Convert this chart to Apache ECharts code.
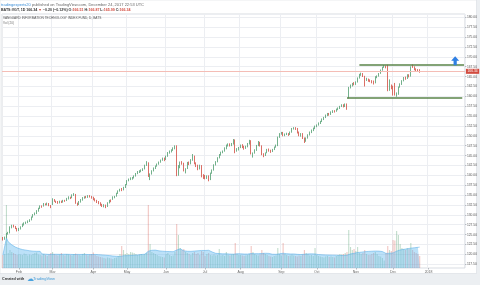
<!DOCTYPE html>
<html>
<head>
  <meta charset="utf-8">
  <title>VGT daily</title>
  <script src="https://cdn.jsdelivr.net/npm/echarts@6/dist/echarts.min.js"></script>
  <style>
    html, body { margin: 0; padding: 0; background: #eceff2; }
    #chart { width: 480px; height: 285px; }
  </style>
</head>
<body>
  <div id="chart"></div>
  <script>
  // daily candles [open, close, low, high], 2017-01-19 .. 2017-12-22
  var ohlc = [
    [124.2,123.7,123.5,124.4],[123.9,124.3,123.7,124.5],[124.3,125.2,124.1,125.4],[125.2,125.4,125.0,125.7],[125.5,126.9,125.3,127.1],
    [126.9,127.2,126.6,127.5],[127.3,127.0,126.8,127.5],[127.0,126.6,126.4,127.2],[126.5,126.0,125.8,126.7],
    // Feb
    [126.2,126.5,125.9,126.7],[126.4,126.9,126.3,127.1],[127.0,127.6,126.9,127.8],[127.5,127.9,127.3,128.1],[127.9,128.1,127.7,128.3],
    [128.0,128.4,127.9,128.6],[128.3,128.7,128.2,128.9],[128.8,129.4,128.6,129.6],[129.5,130.0,129.3,130.2],[130.1,130.4,129.9,130.6],
    [130.3,131.0,130.2,131.2],[131.0,131.6,130.8,131.8],[131.7,132.2,131.5,132.4],[132.1,132.0,131.8,132.4],[132.3,132.8,132.1,133.0],
    [132.7,132.6,132.4,132.9],[132.6,132.9,132.4,133.1],[132.8,132.4,132.2,133.0],[132.3,132.0,131.7,132.5],
    // Mar
    [132.6,134.0,132.5,134.2],[133.9,133.5,133.3,134.0],[133.4,133.2,133.0,133.6],[133.3,133.0,132.8,133.5],[133.1,133.4,132.9,133.6],
    [133.4,133.2,133.0,133.6],[133.2,133.6,133.1,133.8],[133.6,133.5,133.3,133.8],[133.6,134.1,133.5,134.3],[134.1,134.5,133.9,134.7],
    [134.4,134.2,134.0,134.6],[134.3,135.0,134.2,135.2],[135.0,135.3,134.8,135.5],[135.2,133.0,132.8,135.3],[132.9,132.6,132.3,133.1],
    [132.7,133.3,132.5,133.5],[133.3,133.8,133.1,134.0],[133.8,134.3,133.6,134.5],[134.3,134.5,134.1,134.7],[134.6,134.4,134.2,134.8],
    [134.5,134.8,134.3,135.0],[134.8,134.6,134.4,135.0],[134.6,134.3,134.1,134.8],
    // Apr
    [134.3,134.0,133.7,134.6],[134.0,133.6,133.4,134.2],[133.6,133.2,133.0,133.8],[133.2,133.0,132.7,133.5],[133.0,132.6,132.3,133.2],
    [132.6,132.2,132.0,132.8],[132.2,132.5,131.9,132.7],[132.4,132.0,131.7,132.6],[132.2,133.0,132.0,133.2],[133.1,133.6,132.9,133.8],
    [133.6,133.5,133.2,133.9],[134.0,134.5,133.8,134.7],[134.5,134.6,134.2,134.8],[134.8,135.4,134.6,135.6],[135.5,136.0,135.3,136.2],
    [136.1,136.4,135.9,136.6],[136.6,136.3,136.0,136.8],[136.4,136.9,136.2,137.1],[136.9,137.6,136.8,137.8],
    // May
    [137.7,138.6,137.5,138.8],[138.7,139.0,138.5,139.2],[139.0,139.2,138.8,139.5],[139.2,139.4,138.9,139.6],[139.4,139.8,139.2,140.0],
    [139.9,140.4,139.7,140.6],[140.5,140.9,140.3,141.1],[140.9,141.1,140.6,141.3],[141.0,141.3,140.8,141.5],[141.3,141.6,141.1,141.8],
    [141.7,142.5,141.5,142.7],[142.6,143.3,142.4,143.6],[143.2,139.8,139.6,143.3],[139.3,140.3,138.8,140.5],[140.4,141.1,140.2,141.3],
    [141.2,141.8,141.0,142.0],[141.8,142.3,141.6,142.5],[142.4,142.8,142.2,143.0],[142.9,143.3,142.7,143.5],[143.4,143.8,143.2,144.0],
    [143.9,144.3,143.7,144.5],[144.3,144.1,143.6,144.5],
    // Jun
    [144.1,144.8,143.9,145.0],[144.9,145.7,144.7,145.9],[145.8,146.1,145.5,146.3],[146.0,146.4,145.8,146.6],[146.4,146.9,146.2,147.1],
    [146.8,147.3,146.6,147.6],[147.4,142.8,139.8,147.6],[141.6,142.0,139.9,142.6],[142.0,143.3,141.8,143.5],[143.4,143.0,142.7,143.6],
    [143.0,141.3,141.0,143.2],[141.2,141.5,140.5,141.8],[141.8,143.2,141.6,143.4],[143.2,142.9,142.6,143.5],[143.0,143.9,142.8,144.1],
    [143.9,144.8,143.7,145.4],[144.8,143.0,142.8,145.0],[143.1,142.4,142.1,143.3],[142.5,141.6,141.3,142.7],[141.8,142.5,141.5,142.7],
    [142.4,139.8,139.5,142.6],[139.9,139.6,139.1,140.3],
    // Jul
    [139.9,139.3,139.0,140.1],[139.4,139.8,139.1,140.0],[139.8,138.9,138.5,140.0],[139.0,140.5,138.8,140.7],[140.6,141.3,140.4,141.5],
    [141.4,142.6,141.2,142.8],[142.7,143.4,142.5,143.6],[143.5,144.4,143.3,144.6],[144.5,145.2,144.3,145.4],[145.2,145.8,145.0,146.0],
    [145.9,146.1,145.6,146.3],[146.2,146.9,146.0,147.1],[146.8,147.6,146.6,147.8],[147.6,147.9,147.3,148.1],[147.9,147.6,147.3,148.1],
    [147.6,148.0,147.4,148.2],[148.0,148.9,147.8,149.2],[148.9,146.3,145.6,149.1],[146.4,146.7,146.0,146.9],[146.6,147.0,146.3,147.2],
    // Aug
    [147.1,147.6,146.9,147.8],[147.6,147.2,146.9,147.9],[147.3,146.8,146.5,147.5],[146.9,147.3,146.7,147.5],[147.3,147.9,147.1,148.2],
    [148.0,148.8,147.8,149.0],[148.7,145.6,145.3,148.9],[145.2,145.6,144.5,145.8],[145.7,146.4,145.5,146.6],[146.4,147.5,146.2,147.7],
    [147.6,148.3,147.4,148.7],[148.3,147.6,147.3,148.5],[147.5,145.3,145.1,147.6],[145.3,145.1,144.6,145.6],[145.2,145.6,144.9,145.8],
    [145.8,146.5,145.6,146.7],[146.6,146.3,146.0,146.8],[146.3,146.0,145.7,146.5],[146.1,146.5,145.9,146.7],[146.6,147.1,146.4,147.3],
    [147.2,147.6,147.0,147.8],[147.6,149.6,147.4,149.8],[149.7,150.5,149.5,150.7],
    // Sep
    [150.6,150.8,150.3,151.0],[150.8,150.2,149.9,151.0],[150.2,150.4,149.9,150.6],[150.5,150.6,150.2,150.8],[150.5,150.3,150.0,150.7],
    [150.4,150.9,150.2,151.1],[151.0,151.8,150.8,152.0],[151.8,152.0,151.6,152.2],[152.0,151.8,151.5,152.2],[151.8,150.9,150.6,152.0],
    [150.9,150.2,149.9,151.1],[150.2,150.5,149.8,150.7],[150.5,149.5,149.2,150.7],[149.4,148.6,148.2,149.6],[148.7,149.4,148.5,149.6],
    [149.5,150.2,149.3,150.4],[150.3,150.9,150.1,151.1],[150.9,151.4,150.7,151.6],[151.4,151.9,151.2,152.1],[151.9,152.4,151.7,152.6],
    // Oct
    [152.4,152.7,152.2,152.9],[152.8,153.2,152.6,153.4],[153.2,153.6,153.0,153.8],[153.7,154.2,153.5,154.4],[154.2,154.6,154.0,154.8],
    [154.7,155.2,154.5,155.4],[155.2,155.6,155.0,155.8],[155.6,155.4,155.1,155.8],[155.5,156.0,155.3,156.2],[156.0,156.3,155.8,156.5],
    [156.3,156.2,155.9,156.5],[156.3,156.7,156.1,156.9],[156.7,157.0,156.5,157.2],[157.0,157.4,156.8,157.6],[157.5,157.8,157.3,158.0],
    [157.8,157.5,157.2,158.0],[157.5,158.0,157.3,158.2],[158.0,157.3,156.6,158.2],[159.7,162.2,159.5,162.4],[162.3,162.8,162.0,163.0],
    [162.8,163.2,162.5,163.4],[163.4,163.1,162.8,163.6],
    // Nov
    [163.1,163.6,162.9,163.8],[163.7,164.6,163.5,164.8],[164.7,165.4,164.5,165.7],[165.4,165.7,165.2,166.0],[165.7,165.2,164.9,165.9],
    [165.0,164.3,162.5,165.2],[164.3,164.4,163.9,164.7],[164.3,164.0,163.7,164.5],[164.1,163.9,163.6,164.3],[163.9,163.6,163.3,164.1],
    [163.8,163.3,163.0,164.0],[163.5,164.9,163.3,165.1],[164.9,165.1,164.6,165.3],[165.2,165.7,165.0,165.9],[165.9,166.6,165.7,166.8],
    [166.7,167.3,166.5,167.5],[167.4,167.6,167.2,167.9],[167.6,167.4,167.1,167.8],[167.8,161.6,161.3,168.0],[161.8,162.6,161.4,164.3],
    [162.7,162.2,161.8,163.0],
    // Dec
    [162.4,162.0,160.2,162.7],[163.0,160.6,160.2,163.4],[160.2,160.6,159.9,161.0],[160.6,162.3,160.4,162.5],[162.4,163.0,162.2,163.3],
    [163.1,163.9,162.9,164.1],[164.0,164.7,163.8,164.9],[164.8,164.5,164.2,165.0],[164.6,165.4,164.4,165.6],[165.4,165.1,164.8,165.6],
    [165.2,167.4,165.0,167.6],[167.9,167.5,167.2,168.1],[167.4,166.9,166.6,167.6],[166.9,166.6,166.3,167.1],[166.7,166.54,166.2,166.9],
    [166.51,166.34,165.99,166.87]
  ];

  // volume, thousands of shares
  var volume = [
    520, 560, 2520, 600, 720, 640, 600, 560, 520,
    560, 540, 520, 580, 560, 500, 540, 520, 560, 600, 620, 540, 520, 500, 560, 520, 480, 540, 600,
    640, 560, 520, 500, 540, 600, 520, 500, 560, 540, 520, 500, 560, 580, 540, 520, 500, 560, 600, 520, 500, 540, 560,
    620, 520, 480, 460, 440, 420, 400, 380, 420, 400, 380, 360, 400, 420, 480, 560, 880, 720, 560,
    600, 560, 640, 620, 600, 560, 520, 540, 560, 520, 560, 600, 2520, 960, 640, 600, 560, 520, 480, 460, 440, 420,
    560, 600, 520, 480, 500, 640, 1760, 1320, 800, 720, 760, 640, 600, 560, 520, 600, 640, 560, 600, 520, 680, 640,
    480, 560, 600, 520, 500, 540, 500, 520, 760, 500, 520, 480, 640, 520, 500, 540, 560, 1000, 560, 520,
    520, 500, 480, 500, 520, 560, 880, 640, 560, 520, 500, 540, 720, 600, 560, 520, 480, 460, 440, 480, 500, 800, 560,
    500, 1000, 560, 520, 480, 500, 540, 500, 480, 460, 500, 480, 540, 720, 600, 560, 500, 520, 480, 800,
    520, 480, 460, 440, 420, 460, 480, 440, 460, 440, 420, 480, 520, 560, 540, 560, 600, 640, 1520, 840, 720, 760,
    680, 840, 600, 560, 600, 720, 560, 520, 520, 560, 600, 640, 560, 480, 460, 400, 300, 600, 880, 720, 680,
    1120, 1100, 1480, 1320, 960, 800, 760, 720, 800, 760, 1000, 720, 640, 600, 560, 480
  ];
  var maLength = 20;

  var holidays = ['2017-02-20', '2017-04-14', '2017-05-29', '2017-07-04', '2017-09-04',
                  '2017-11-23', '2017-12-25', '2018-01-01', '2018-01-15'];
  var monthNames = ['Jan', 'Feb', 'Mar', 'Apr', 'May', 'Jun', 'Jul', 'Aug', 'Sep', 'Oct', 'Nov', 'Dec'];

  // trading days, plus empty days to the right of the last bar
  var dates = [];
  var d = new Date(Date.UTC(2017, 0, 19));
  while (dates.length < 261) {
    var key = d.toISOString().slice(0, 10);
    if (d.getUTCDay() !== 0 && d.getUTCDay() !== 6 && holidays.indexOf(key) < 0) dates.push(key);
    d.setUTCDate(d.getUTCDate() + 1);
  }

  var volMa = volume.map(function (v, i) {
    var from = Math.max(0, i - maLength + 1), sum = 0;
    for (var k = from; k <= i; k++) sum += volume[k];
    return +(sum / (i - from + 1)).toFixed(1);
  });

  var upColor = '#4f9d6e', downColor = '#d24b3f';
  var last = ohlc[ohlc.length - 1], prevClose = ohlc[ohlc.length - 2][1];
  var change = last[1] - prevClose;
  var changePct = change / prevClose * 100;

  function isMonthStart(i) {
    return i > 0 && dates[i].slice(5, 7) !== dates[i - 1].slice(5, 7);
  }
  function monthLabel(v) {
    var m = +v.slice(5, 7);
    return m === 1 ? v.slice(0, 4) : monthNames[m - 1];
  }
  function fmt(v) { return v.toFixed(2).replace('-', '\u2212'); }

  var chart = echarts.init(document.getElementById('chart'));
  chart.setOption({
    animation: false,
    backgroundColor: '#eceff2',
    textStyle: { fontFamily: 'Liberation Sans, Arial, sans-serif' },
    title: [
      {
        left: 1, top: 2, padding: 0,
        text: '{u|tradingexperts20} {g|published on TradingView.com, December 24, 2017 22:53 UTC}',
        textStyle: { fontSize: 4, lineHeight: 5, fontWeight: 'normal', color: '#666', rich: {
          u: { fontSize: 4, lineHeight: 5, color: '#3d8fd8' },
          g: { fontSize: 4, lineHeight: 5, color: '#666' }
        } }
      },
      {
        left: 1, top: 8, padding: 0,
        text: '{k|BATS:VGT, 1D} {k|' + fmt(last[1]) + '} {r|\u25BC} {k|' + fmt(change) + ' (' + fmt(changePct) + '%)} ' +
              '{k|O:}{r|' + fmt(last[0]) + '} {k|H:}{r|' + fmt(last[3]) + '} {k|L:}{r|' + fmt(last[2]) + '} {k|C:}{r|' + fmt(last[1]) + '}',
        textStyle: { fontSize: 3.6, lineHeight: 4.5, fontWeight: 'bold', color: '#333', rich: {
          k: { fontSize: 3.6, lineHeight: 4.5, color: '#333', fontWeight: 'bold' },
          r: { fontSize: 3.6, lineHeight: 4.5, color: downColor, fontWeight: 'bold' }
        } }
      },
      {
        left: 3, top: 16.2, padding: 0,
        text: 'VANGUARD INFORMATION TECHNOLOGY INDEX FUND, D, BATS',
        textStyle: { fontSize: 3.2, color: '#555', fontWeight: 'normal' }
      },
      {
        left: 3, top: 21.2, padding: 0,
        text: 'Vol (20)',
        textStyle: { fontSize: 3.2, color: '#777', fontWeight: 'normal' }
      }
    ],
    graphic: [
      { type: 'rect', z: -100, shape: { x: 0, y: 0, width: 476.5, height: 273.5 },
        style: { fill: '#fff', stroke: '#d8dbe0', lineWidth: 0.6 } },
      { type: 'text', x: 2, y: 279, style: { text: 'Created with', fontSize: 3.7, fontWeight: 'bold', fill: '#333', verticalAlign: 'middle' } },
      { type: 'text', x: 26.5, y: 279, style: { text: '\u2601', fontSize: 7, fill: '#4aa3df', verticalAlign: 'middle' } },
      { type: 'text', x: 33, y: 279, style: { text: 'TradingView', fontSize: 4, fill: '#3f9ad8', verticalAlign: 'middle' } }
    ],
    grid: {
      left: 2, right: 15, top: 14, bottom: 17,
      show: true, backgroundColor: '#fff', borderColor: '#cfd3d8', borderWidth: 0.8
    },
    xAxis: {
      type: 'category',
      data: dates,
      boundaryGap: true,
      axisLine: { show: false },
      axisTick: { show: true, interval: isMonthStart, alignWithLabel: true, length: 1.5, lineStyle: { color: '#b5b9bf' } },
      axisLabel: { interval: isMonthStart, formatter: monthLabel, fontSize: 3.5, color: '#666', margin: 1.6 },
      splitLine: { show: true, interval: isMonthStart, lineStyle: { color: '#eceef2', width: 1 } }
    },
    yAxis: [
      {
        type: 'value', position: 'right',
        min: 116.55, max: 180.85,
        splitNumber: 26, minInterval: 2.5, maxInterval: 2.5,
        axisLine: { show: false },
        axisTick: { show: true, length: 1.5, lineStyle: { color: '#b5b9bf' } },
        axisLabel: {
          fontSize: 3.3, color: '#555', margin: 2,
          showMinLabel: false, showMaxLabel: false,
          formatter: function (v) { return v.toFixed(2); }
        },
        splitLine: { lineStyle: { color: '#eceef2', width: 1 } }
      },
      {
        type: 'value', min: 0, max: 10160, show: false,
        splitLine: { show: false }
      }
    ],
    series: [
      {
        name: 'Vol', type: 'bar', yAxisIndex: 1, z: 1,
        data: volume, barWidth: '62%',
        itemStyle: {
          color: function (p) {
            var k = ohlc[p.dataIndex];
            return k[1] >= k[0] ? 'rgba(79,157,110,0.35)' : 'rgba(210,75,63,0.32)';
          }
        }
      },
      {
        name: 'Vol MA', type: 'line', yAxisIndex: 1, z: 2,
        data: volMa, symbol: 'none',
        lineStyle: { color: 'rgba(80,170,232,0.85)', width: 0.6 },
        areaStyle: { color: 'rgba(100,186,238,0.62)' }
      },
      {
        name: 'VGT', type: 'candlestick', z: 4,
        data: ohlc,
        barWidth: '72%',
        itemStyle: { color: upColor, color0: downColor, borderColor: upColor, borderColor0: downColor, borderWidth: 0.8 },
        markLine: {
          silent: true, symbol: 'none', animation: false,
          data: [
            { yAxis: last[1],
              lineStyle: { color: '#f4bdb6', width: 1, type: 'solid' },
              label: { show: true, position: 'end', formatter: fmt(last[1]), color: '#fff', backgroundColor: downColor,
                       fontSize: 3.3, padding: [1, 1.6], distance: 1 } },
            [{ coord: [dates[201], 167.9], lineStyle: { color: '#5a8549', width: 1.6, type: 'solid' }, label: { show: false } },
             { coord: [dates[260], 167.9] }],
            [{ coord: [dates[194], 159.7], lineStyle: { color: '#5a8549', width: 1.6, type: 'solid' }, label: { show: false } },
             { coord: [dates[259], 159.7] }]
          ]
        },
        markPoint: {
          silent: true,
          data: [{
            coord: [dates[255], 169.0],
            symbol: 'path://M5,0 L10,5 L7,5 L7,10 L3,10 L3,5 L0,5 Z',
            symbolSize: [8, 9],
            itemStyle: { color: '#2f7fe3' },
            label: { show: false }
          }]
        }
      }
    ]
  });
  </script>
</body>
</html>
